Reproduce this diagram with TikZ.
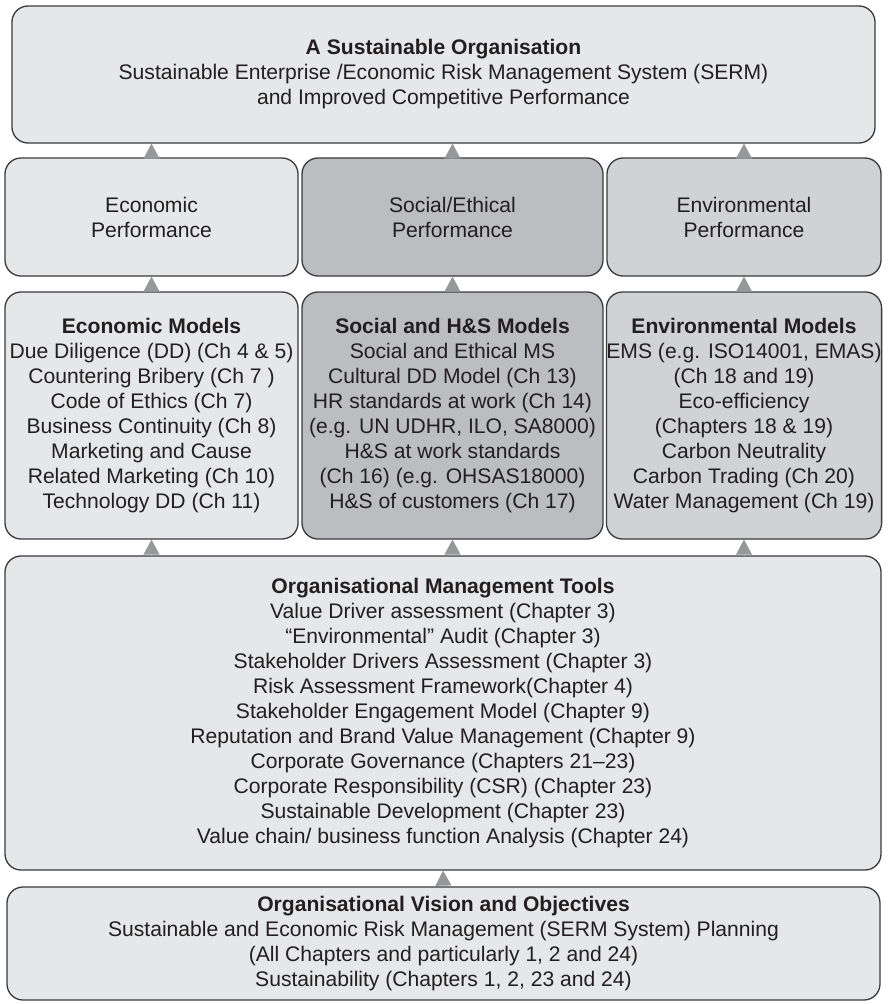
\documentclass[tikz,border=0pt]{standalone}
\usepackage{fontspec}
\setsansfont{Liberation Sans}
\usepackage{xcolor}
\definecolor{BoxLight} {HTML}{E6E7E8}
\definecolor{BoxMid}   {HTML}{D1D2D4}
\definecolor{BoxDark}  {HTML}{BCBDC0}
\definecolor{BoxEdge}  {HTML}{3A3A3C}
\definecolor{ArrGray}  {HTML}{97989A}
\definecolor{TextInk}  {HTML}{231F20}
\usetikzlibrary{arrows.meta}

\begin{document}
\begin{tikzpicture}[x=1pt,y=-1pt,
  panel/.style={draw=BoxEdge,line width=1.3pt,rounded corners=16pt,
    font=\sffamily\fontsize{21.1}{25}\selectfont,text=TextInk,
    inner sep=0pt,align=center},
  light/.style={panel,fill=BoxLight},
  mid/.style={panel,fill=BoxMid},
  dark/.style={panel,fill=BoxDark},
  perf/.style={minimum height=118pt},
  models/.style={minimum height=247pt},
  up/.style={-{Triangle[width=16pt,length=15pt]},draw=ArrGray,
    fill=ArrGray,line width=0.1pt}]
  \useasboundingbox (0,0) rectangle (887,1004);
  \node[light,minimum width=863pt,minimum height=137pt](ORG) at (443.5,74.5)
    {\textbf{A Sustainable Organisation}\\
    Sustainable Enterprise /Economic Risk Management System (SERM)\\
    and Improved Competitive Performance};
  % Performance row
  \node[light,perf,minimum width=293pt](EP) at (151.5,217)
    {Economic\\Performance};
  \node[dark,perf,minimum width=301pt](SP) at (452.5,217)
    {Social/Ethical\\Performance};
  \node[mid,perf,minimum width=274pt](VP) at (744,217)
    {Environmental\\Performance};
  % Models row
  \node[light,models,minimum width=293pt](EM) at (151.5,415.5)
    {\textbf{Economic Models}\\
    Due Diligence (DD) (Ch 4 \& 5)\\
    Countering Bribery (Ch 7 )\\
    Code of Ethics (Ch 7)\\
    Business Continuity (Ch 8)\\
    Marketing and Cause\\
    Related Marketing (Ch 10)\\
    Technology DD (Ch 11)};
  \node[dark,models,minimum width=301pt](SM) at (452.5,415.5)
    {\textbf{Social and H\&S Models}\\
    Social and Ethical MS\\
    Cultural DD Model (Ch 13)\\
    HR standards at work (Ch 14)\\
    (e.g. UN UDHR, ILO, SA8000)\\
    H\&S at work standards\\
    (Ch 16) (e.g. OHSAS18000)\\
    H\&S of customers (Ch 17)};
  \node[mid,models,minimum width=274pt](VM) at (744,415.5)
    {\textbf{Environmental Models}\\
    EMS (e.g. ISO14001, EMAS)\\
    (Ch 18 and 19)\\
    Eco-efficiency\\
    (Chapters 18 \& 19)\\
    Carbon Neutrality\\
    Carbon Trading (Ch 20)\\
    Water Management (Ch 19)};
  \node[light,minimum width=876pt,minimum height=314pt](MT) at (443,713)
    {\textbf{Organisational Management Tools}\\
    Value Driver assessment (Chapter 3)\\
    “Environmental” Audit (Chapter 3)\\
    Stakeholder Drivers Assessment (Chapter 3)\\
    Risk Assessment Framework(Chapter 4)\\
    Stakeholder Engagement Model (Chapter 9)\\
    Reputation and Brand Value Management (Chapter 9)\\
    Corporate Governance (Chapters 21–23)\\
    Corporate Responsibility (CSR) (Chapter 23)\\
    Sustainable Development (Chapter 23)\\
    Value chain/ business function Analysis (Chapter 24)};
  \node[light,minimum width=873pt,minimum height=113pt](OV) at (443.5,943.5)
    {\textbf{Organisational Vision and Objectives}\\
    Sustainable and Economic Risk Management (SERM System) Planning\\
    (All Chapters and particularly 1, 2 and 24)\\
    Sustainability (Chapters 1, 2, 23 and 24)};
  % Arrows
  \draw[up](EP.north)--(EP.north|-ORG.south);
  \draw[up](SP.north)--(SP.north|-ORG.south);
  \draw[up](VP.north)--(VP.north|-ORG.south);
  \draw[up](EM.north)--(EP.south);
  \draw[up](SM.north)--(SP.south);
  \draw[up](VM.north)--(VP.south);
  \draw[up](MT.north-|EM)--(EM.south);
  \draw[up](MT.north-|SM)--(SM.south);
  \draw[up](MT.north-|VM)--(VM.south);
  \draw[up](OV.north)--(MT.south);
\end{tikzpicture}
\end{document}
